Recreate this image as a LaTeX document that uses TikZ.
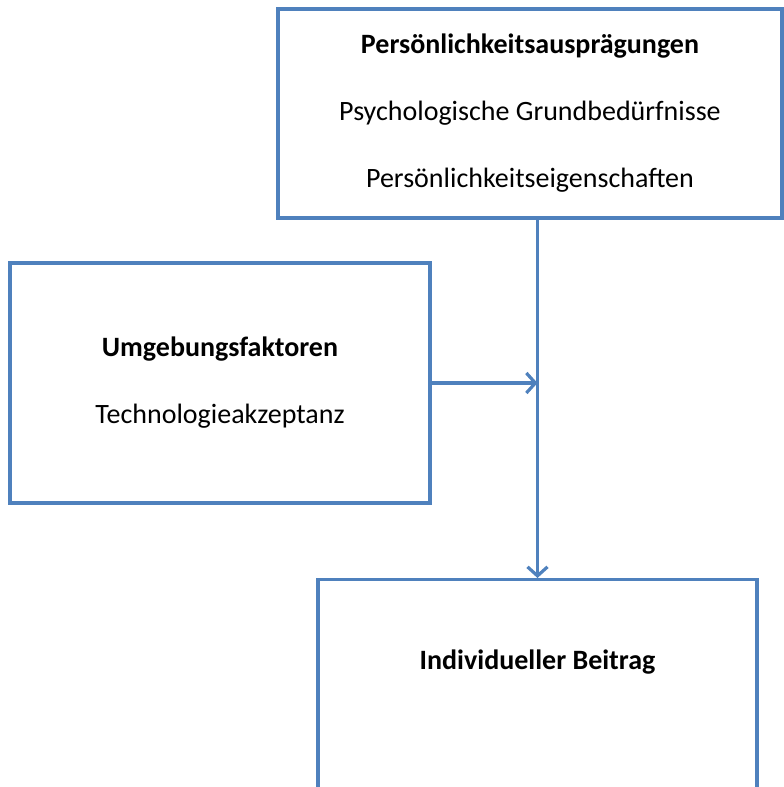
\documentclass[tikz,border=0pt]{standalone}
\usepackage{fontspec}
\setmainfont{Carlito}
\usepackage{tikz}
\usetikzlibrary{arrows.meta,positioning,calc}
\definecolor{boxblue}{RGB}{79,129,189}

\begin{document}
\begin{tikzpicture}[
  x=1pt, y=-1pt,
  font=\fontsize{28}{67}\selectfont,
  b/.style={draw=boxblue, line width=3.2pt, align=center, inner sep=0pt},
  pf/.style={draw=boxblue, line width=3.2pt, -{Straight Barb[length=9pt, width=20pt, line width=3.2pt]}}
]
\useasboundingbox (0,0) rectangle (784,787);
\node[b, minimum width=504pt, minimum height=209pt] (pers) at (530,113.5)
  {\textbf{Persönlichkeitsausprägungen}\\Psychologische Grundbedürfnisse\\Persönlichkeitseigenschaften};
\node[b, minimum width=420pt, minimum height=240pt] (umg) at (220,383)
  {\textbf{Umgebungsfaktoren}\\Technologieakzeptanz};
\node[b, minimum width=439pt, minimum height=260pt, anchor=north] (beitrag) at (537.5,578) {};
\node[font=\fontsize{28}{34}\selectfont\bfseries, below=84pt of beitrag.north, anchor=center] (beitragtext) {Individueller Beitrag};
\draw[pf] (beitrag.north |- pers.south) -- (beitrag.north);
\draw[pf] (umg.east) -- (umg.east -| beitrag.north);
\end{tikzpicture}
\end{document}
